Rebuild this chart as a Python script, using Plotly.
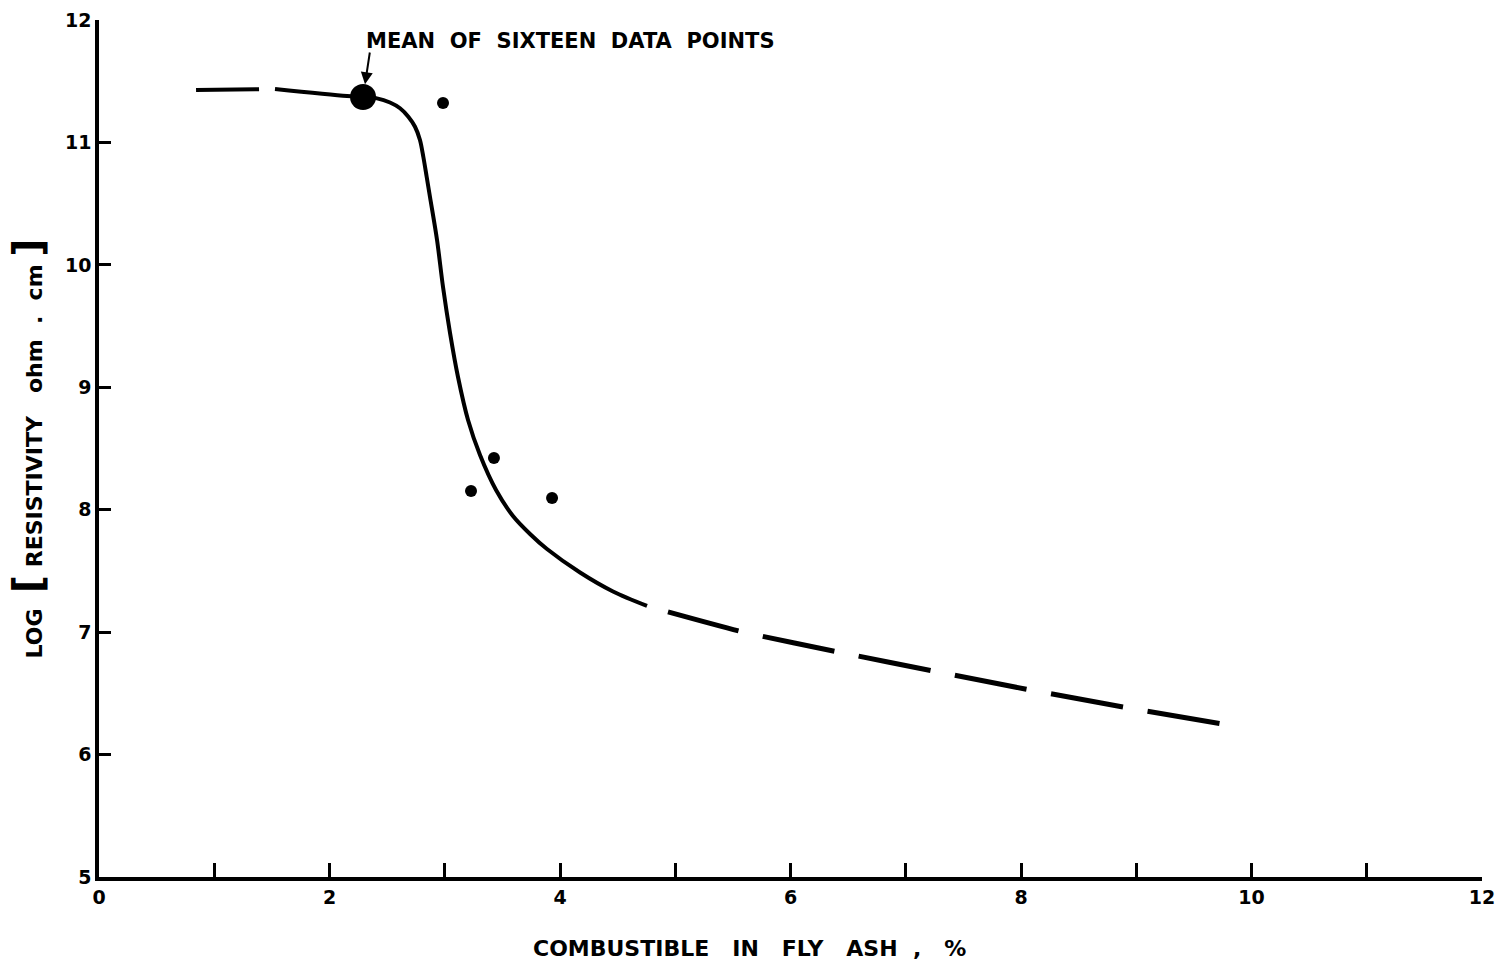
import plotly.graph_objects as go

# Leading dashed stub of the fitted curve (% combustible, log resistivity)
lead_x = [0.842, 1.527]
lead_y = [11.428, 11.436]

# Solid portion of the fitted curve
curve_x = [1.527, 2.152, 2.291, 2.412, 2.525, 2.612, 2.684, 2.742, 2.785, 2.814,
           2.843, 2.872, 2.933, 2.985, 3.046, 3.115, 3.202, 3.306, 3.445, 3.592,
           3.740, 3.887, 4.174, 4.460, 4.755]
curve_y = [11.436, 11.379, 11.371, 11.360, 11.326, 11.279, 11.210, 11.128, 11.020, 10.883,
           10.720, 10.554, 10.203, 9.819, 9.443, 9.084, 8.733, 8.447, 8.161, 7.949,
           7.802, 7.679, 7.487, 7.332, 7.214]

# Extrapolated (dashed) tail of the curve
tail_x = [4.937, 5.588, 6.456, 7.236, 8.035, 8.885, 9.744]
tail_y = [7.165, 7.001, 6.830, 6.683, 6.536, 6.389, 6.250]

# Individual measurements
point_x = [2.985, 3.228, 3.427, 3.931]
point_y = [11.322, 8.153, 8.422, 8.096]

# Mean of sixteen data points
mean_x = [2.291]
mean_y = [11.371]

x_ticks = list(range(0, 13))
x_tick_labels = ["0", "", "2", "", "4", "", "6", "", "8", "", "10", "", "12"]
y_ticks = list(range(5, 13))
y_tick_labels = ["5", "6", "7", "8", "9", "10", "11", "12"]

FONT = "DejaVu Sans"
INK = "black"

fig = go.Figure()

fig.add_trace(go.Scatter(x=lead_x, y=lead_y, mode="lines",
                         line=dict(color=INK, width=4, dash="63px,16px")))
fig.add_trace(go.Scatter(x=curve_x, y=curve_y, mode="lines",
                         line=dict(color=INK, width=4, shape="spline", smoothing=0.9)))
fig.add_trace(go.Scatter(x=tail_x, y=tail_y, mode="lines",
                         line=dict(color=INK, width=5, dash="73px,25px",
                                   shape="spline", smoothing=0.6)))
fig.add_trace(go.Scatter(x=point_x, y=point_y, mode="markers",
                         marker=dict(color=INK, size=12, line=dict(width=0))))
fig.add_trace(go.Scatter(x=mean_x, y=mean_y, mode="markers",
                         marker=dict(color=INK, size=26, line=dict(width=0))))

# Label and pointer for the mean value
fig.add_annotation(x=2.30, y=11.83, xref="x", yref="y", xanchor="left", yanchor="middle",
                   text="<b>MEAN  OF  SIXTEEN  DATA  POINTS</b>", showarrow=False,
                   font=dict(family=FONT, size=21, color=INK))
fig.add_annotation(x=mean_x[0], y=mean_y[0], xref="x", yref="y", text="",
                   showarrow=True, arrowhead=2, arrowsize=1.2, arrowwidth=2,
                   arrowcolor=INK, standoff=13, ax=7, ay=-46)

# X axis title, set slightly left of the plot centre
fig.add_annotation(x=0.4707, y=-0.083, xref="paper", yref="paper",
                   xanchor="center", yanchor="middle", showarrow=False,
                   text="COMBUSTIBLE   IN   FLY   ASH  ,   %",
                   font=dict(family=FONT, size=22, color=INK, weight="bold"))

axis_common = dict(
    showline=True, linecolor=INK, linewidth=3.5, mirror=False,
    showgrid=False, zeroline=False,
    ticks="inside", tickcolor=INK, tickwidth=3,
    tickfont=dict(family=FONT, size=19, color=INK, weight="bold"),
)

fig.update_xaxes(range=[0, 12], tickvals=x_ticks, ticktext=x_tick_labels, ticklen=14,
                 **axis_common)
fig.update_yaxes(range=[5, 12], tickvals=y_ticks, ticktext=y_tick_labels, ticklen=12,
                 title=dict(text="LOG  <span style='font-size:40px'>[</span> RESISTIVITY   ohm  .  cm <span style='font-size:40px'>]</span>",
                            standoff=17,
                            font=dict(family=FONT, size=22, color=INK, weight="bold")),
                 **axis_common)

fig.update_layout(
    width=1497, height=965,
    margin=dict(l=99, r=15, t=20, b=88, autoexpand=False),
    paper_bgcolor="white", plot_bgcolor="white",
    showlegend=False,
)

fig.write_html("out.html")
